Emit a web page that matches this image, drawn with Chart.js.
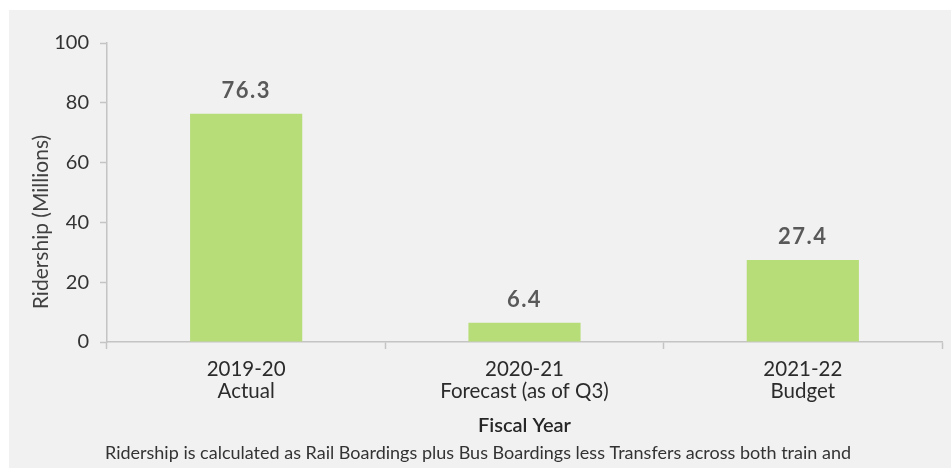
<!DOCTYPE html>
<html>
<head>
<meta charset="utf-8">
<title>Ridership by Fiscal Year</title>
<script src="https://cdn.jsdelivr.net/npm/chart.js@4/dist/chart.umd.min.js"></script>
<style>
  html, body { margin: 0; padding: 0; background: #ffffff; }
  #wrap { width: 951px; height: 468px; }
</style>
</head>
<body>
<div id="wrap"><canvas id="chart" width="951" height="468"></canvas></div>
<script>
// Fiscal year categories (two-line axis labels)
const categories = [
  ['2019-20', 'Actual'],
  ['2020-21', 'Forecast (as of Q3)'],
  ['2021-22', 'Budget']
];
// Ridership in millions
const ridership = [76.3, 6.4, 27.4];
// Value axis ticks
const yTicks = [0, 20, 40, 60, 80, 100];

const yAxisTitle = 'Ridership (Millions)';
const xAxisTitle = 'Fiscal Year';
const footnote = 'Ridership is calculated as Rail Boardings plus Bus Boardings less Transfers across both train and';

const FONT = 'Lato, "Open Sans", sans-serif';

// Grey panel behind the chart, inset from the top and left edges
const panelBackground = {
  id: 'panelBackground',
  beforeDraw(chart) {
    const { ctx, width, height } = chart;
    ctx.save();
    ctx.fillStyle = '#ffffff';
    ctx.fillRect(0, 0, width, height);
    ctx.fillStyle = '#f1f1f1';
    ctx.fillRect(9, 10, width - 9, height - 10);
    ctx.restore();
  }
};

// Value labels above each bar, plus axis titles and the footnote
const annotations = {
  id: 'annotations',
  afterDatasetsDraw(chart) {
    const { ctx, chartArea } = chart;
    const meta = chart.getDatasetMeta(0);
    ctx.save();
    ctx.fillStyle = '#595959';
    ctx.font = 'bold 22px ' + FONT;
    ctx.letterSpacing = '1.5px';
    ctx.textAlign = 'center';
    ctx.textBaseline = 'bottom';
    meta.data.forEach((bar, i) => {
      ctx.fillText(ridership[i].toFixed(1), bar.x, bar.y - 12);
    });
    ctx.letterSpacing = '0px';

    // y axis title
    ctx.fillStyle = '#404040';
    ctx.font = '21px ' + FONT;
    ctx.textBaseline = 'middle';
    ctx.save();
    ctx.translate(41, 222);
    ctx.rotate(-Math.PI / 2);
    ctx.fillText(yAxisTitle, 0, 0);
    ctx.restore();

    // x axis title
    ctx.fillStyle = '#262626';
    ctx.font = '600 20px ' + FONT;
    ctx.fillText(xAxisTitle, (chartArea.left + chartArea.right) / 2, 426);

    // footnote
    ctx.fillStyle = '#333333';
    ctx.font = '18px ' + FONT;
    ctx.fillText(footnote, 478, 453);
    ctx.restore();
  }
};

new Chart(document.getElementById('chart'), {
  type: 'bar',
  data: {
    labels: categories,
    datasets: [{
      data: ridership,
      backgroundColor: '#b7dd79',
      borderWidth: 0,
      categoryPercentage: 1,
      barPercentage: 0.403
    }]
  },
  options: {
    responsive: false,
    animation: false,
    devicePixelRatio: 1,
    layout: { padding: { left: 0, right: 9, top: 43, bottom: 0 } },
    plugins: {
      legend: { display: false },
      tooltip: { enabled: false },
      title: { display: false }
    },
    scales: {
      x: {
        grid: {
          offset: true,
          drawOnChartArea: false,
          drawTicks: true,
          tickLength: 7,
          tickColor: '#c4c4c4',
          tickWidth: 1.5
        },
        border: { color: '#c4c4c4', width: 1.5 },
        ticks: {
          color: '#2b2b2b',
          font: { family: FONT, size: 20.5, lineHeight: 1.1 },
          padding: 9,
          maxRotation: 0,
          autoSkip: false
        },
        afterFit(scale) { scale.height = 126; }
      },
      y: {
        min: 0,
        max: 100,
        afterBuildTicks(scale) { scale.ticks = yTicks.map(v => ({ value: v })); },
        grid: {
          drawOnChartArea: false,
          drawTicks: true,
          tickLength: 7,
          tickColor: '#c4c4c4',
          tickWidth: 1.5
        },
        border: { color: '#c4c4c4', width: 1.5 },
        ticks: {
          color: '#333333',
          font: { family: FONT, size: 20 },
          padding: 11
        },
        afterFit(scale) { scale.width = 107; }
      }
    }
  },
  plugins: [panelBackground, annotations]
});
</script>
</body>
</html>
